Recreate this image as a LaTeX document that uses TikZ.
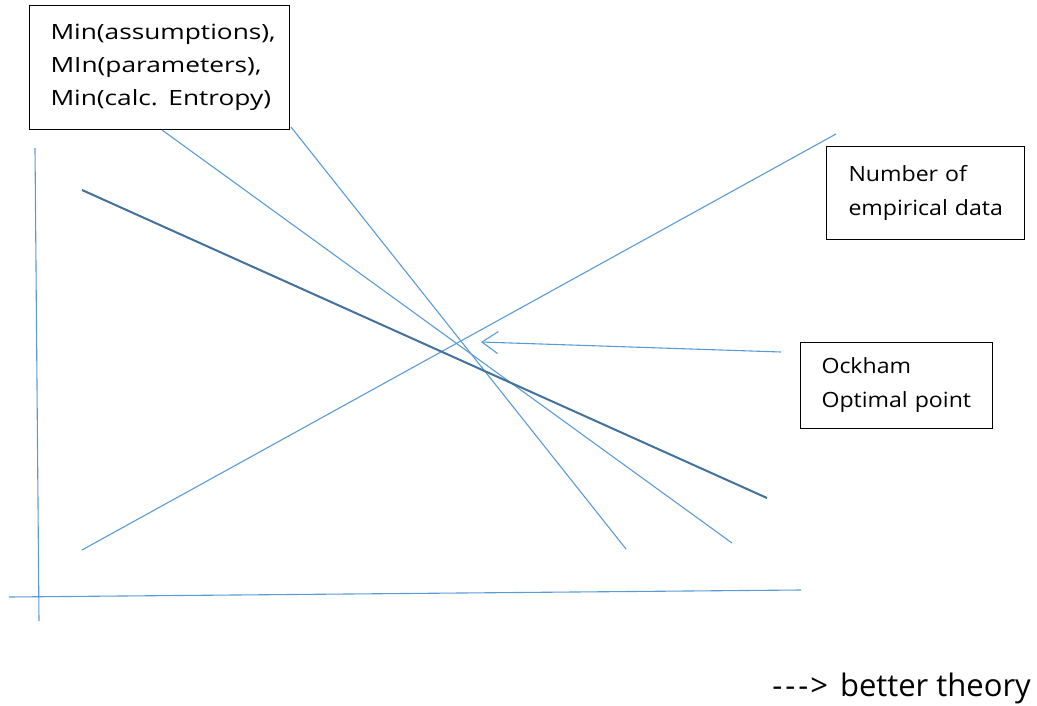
\documentclass[tikz,border=0pt]{standalone}
\usepackage{fontspec}
\setmainfont{Open Sans}
\newfontfamily\widefont[FakeStretch=1.25]{Open Sans}
\newfontfamily\midfont[FakeStretch=1.1]{Open Sans}
\usetikzlibrary{arrows.meta}
\definecolor{lblue}{HTML}{5B9BD5}
\definecolor{dblue}{HTML}{41719C}
\begin{document}
\begin{tikzpicture}[x=1pt,y=-1pt,
  box/.style={draw=black,line width=1pt,align=left,inner ysep=0pt,anchor=north west},
  thin/.style={draw=lblue,line width=1.1pt},
  thick/.style={draw=dblue,line width=2pt}]
\useasboundingbox (0,0) rectangle (1037,706);
% boxes
\node[box,inner xsep=21pt,text width=218pt,minimum height=124pt,font=\widefont\fontsize{21}{33}\selectfont] (b1) at (29,5) {\mbox{Min(assumptions),}\\\mbox{MIn(parameters),}\\\mbox{Min(calc. Entropy)}};
\node[box,inner xsep=22pt,text width=154pt,minimum height=93pt,font=\midfont\fontsize{21}{34}\selectfont] (b2) at (826,146) {\mbox{Number of}\\\mbox{empirical data}};
\node[box,inner xsep=21pt,text width=150pt,minimum height=86pt,font=\midfont\fontsize{21}{34}\selectfont] (b3) at (800,342) {\mbox{Ockham}\\\mbox{Optimal point}};
\node[font=\fontsize{31}{36}\selectfont,anchor=east,inner sep=0pt] (bt) at (1031,688) {-\kern3pt-\kern3pt-\kern2pt>\kern4pt{} better theory};
% coordinates
\coordinate (va) at (35,148); \coordinate (vb) at (39,621);
\coordinate (ha) at (9,597); \coordinate (hb) at (801,590);
\coordinate (da) at (82,190); \coordinate (db) at (767,498);
\coordinate (l1a) at (162,130); \coordinate (l1b) at (732,543);
\coordinate (l2a) at (291,127); \coordinate (l2b) at (626,549);
\coordinate (ra) at (82,550); \coordinate (rb) at (836,134);
\coordinate (aa) at (781,352); \coordinate (ab) at (481,342);
% lines
\draw[thin] (va) -- (vb);
\draw[thin] (ha) -- (hb);
\draw[thin] (l1a) -- (l1b);
\draw[thin] (l2a) -- (l2b);
\draw[thin] (ra) -- (rb);
\draw[thick] (da) -- (db);
\draw[thin,-{Straight Barb[length=16pt,width=22pt,line width=1.1pt]}] (aa) -- (ab);
\end{tikzpicture}
\end{document}
